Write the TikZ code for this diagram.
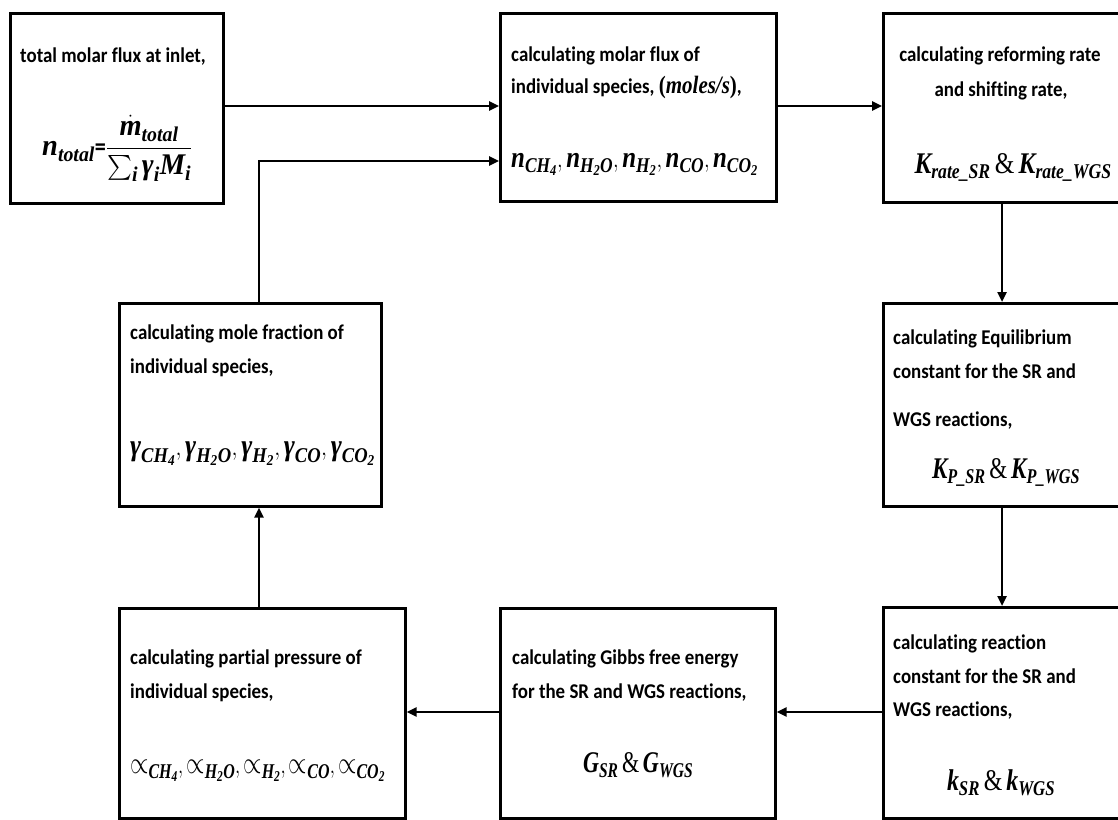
\documentclass[tikz,border=0pt]{standalone}
\usepackage{amsmath}
\usepackage{fontspec}
\setmainfont{Carlito}[FakeStretch=0.9,Ligatures=NoCommon]
\newfontfamily\mfont{Liberation Serif}
\usetikzlibrary{arrows.meta}
\newcommand{\V}[1]{\text{\mfont\bfseries\itshape #1}}
\newcommand{\amp}{\text{\mfont\,\&\,}}
\newcommand{\pp}{\mathord{\text{\scalebox{1.25}{$\propto$}}}}
\newcommand{\mthw}[2]{\resizebox{#1}{\height}{$#2$}}
\begin{document}
\begin{tikzpicture}[x=1pt,y=-1pt,
  box/.style={draw,line width=2.6pt,rectangle,anchor=north west,inner sep=0pt},
  lbl/.style={anchor=base west,inner sep=0pt,font=\fontsize{21}{25}\selectfont\bfseries},
  lblc/.style={lbl,anchor=base},
  mathlbl/.style={anchor=base west,inner sep=0pt,font=\fontsize{30}{36}\selectfont},
  mathc/.style={mathlbl,anchor=base},
  arr/.style={line width=2.4pt,-{Triangle[length=10pt,width=9pt]}}
]
\path[use as bounding box,clip] (0,0) rectangle (1118,819);
\fill[white] (0,0) rectangle (1118,819);
% boxes
\node[box,minimum width=213pt,minimum height=190pt] (b1) at (9,12) {};
\node[box,minimum width=276pt,minimum height=188pt] (b2) at (499,12) {};
\node[box,minimum width=260pt,minimum height=189pt] (b3) at (882,12) {};
\node[box,minimum width=260pt,minimum height=203pt] (b4) at (882,302) {};
\node[box,minimum width=260pt,minimum height=211pt] (b5) at (882,606) {};
\node[box,minimum width=275pt,minimum height=210pt] (b6) at (499,607) {};
\node[box,minimum width=286pt,minimum height=210pt] (b7) at (118,607) {};
\node[box,minimum width=262pt,minimum height=203pt] (b8) at (118,302) {};
% texts
\node[lblc] (t1a) at (113,62) {total molar flux at inlet,};
\node[mathlbl] (m1) at (42,155) {\mthw{150pt}{\V{n}_{\V{total}}\text{\fontsize{26}{30}\selectfont\bfseries=}\dfrac{\raisebox{3pt}{$\dot{\V{m}}_{\V{total}}$}}{\raisebox{-2pt}{$\sum_{\V{i}} \V{γ}_{\V{i}} \V{M}_{\V{i}}$}}}};
\node[lbl] (t2a) at (511,61) {calculating molar flux of};
\node[lbl] (t2b) at (511,93) {individual species, \scalebox{0.84}[1]{\fontsize{25}{30}\selectfont\mfont(\itshape moles/s\upshape)},};
\node[mathlbl] (m2) at (511,167) {\mthw{247pt}{\V{n}_{\V{CH}_{\V{4}}}, \V{n}_{\V{H}_{\V{2}}\V{O}}, \V{n}_{\V{H}_{\V{2}}}, \V{n}_{\V{CO}}, \V{n}_{\V{CO}_{\V{2}}}}};
\node[lblc] (t3a) at (1000,61) {calculating reforming rate};
\node[lblc] (t3b) at (1001,96) {and shifting rate,};
\node[mathc] (m3) at (1013,173) {\mthw{197pt}{\V{K}_{\V{rate\_SR}}\amp\V{K}_{\V{rate\_WGS}}}};
\node[lbl] (t4a) at (893,344) {calculating Equilibrium};
\node[lbl] (t4b) at (893,378) {constant for the SR and};
\node[lbl] (t4c) at (893,426) {WGS reactions,};
\node[mathc] (m4) at (1006,478) {\mthw{148pt}{\V{K}_{\V{P\_SR}}\amp\V{K}_{\V{P\_WGS}}}};
\node[lbl] (t5a) at (893,649) {calculating reaction};
\node[lbl] (t5b) at (893,683) {constant for the SR and};
\node[lbl] (t5c) at (893,716) {WGS reactions,};
\node[mathc] (m5) at (1001,790) {\mthw{108pt}{\V{k}_{\V{SR}}\amp\V{k}_{\V{WGS}}}};
\node[lbl] (t6a) at (512,664) {calculating Gibbs free energy};
\node[lbl] (t6b) at (512,698) {for the SR and WGS reactions,};
\node[mathc] (m6) at (638,772) {\mthw{110pt}{\V{G}_{\V{SR}}\amp\V{G}_{\V{WGS}}}};
\node[lbl] (t7a) at (130,664) {calculating partial pressure of};
\node[lbl] (t7b) at (130,698) {individual species,};
\node[mathlbl] (m7) at (130,773) {\mthw{255pt}{\pp_{\V{CH}_{\V{4}}}, \pp_{\V{H}_{\V{2}}\V{O}}, \pp_{\V{H}_{\V{2}}}, \pp_{\V{CO}}, \pp_{\V{CO}_{\V{2}}}}};
\node[lbl] (t8a) at (130,339) {calculating mole fraction of};
\node[lbl] (t8b) at (130,373) {individual species,};
\node[mathlbl] (m8) at (130,455) {\mthw{245pt}{\V{γ}_{\V{CH}_{\V{4}}}, \V{γ}_{\V{H}_{\V{2}}\V{O}}, \V{γ}_{\V{H}_{\V{2}}}, \V{γ}_{\V{CO}}, \V{γ}_{\V{CO}_{\V{2}}}}};
% helper coordinates
\coordinate (y106) at (0,106);
\coordinate (y161) at (0,161);
\coordinate (x259) at (259,0);
\coordinate (x1002) at (1002,0);
\coordinate (y712) at (0,712);
% connectors
\draw[arr] (b1.east |- y106) -- (b2.west |- y106);
\draw[arr] (b8.north -| x259) |- (b2.west |- y161);
\draw[arr] (b2.east |- y106) -- (b3.west |- y106);
\draw[arr] (b3.south -| x1002) -- (b4.north -| x1002);
\draw[arr] (b4.south -| x1002) -- (b5.north -| x1002);
\draw[arr] (b5.west |- y712) -- (b6.east |- y712);
\draw[arr] (b6.west |- y712) -- (b7.east |- y712);
\draw[arr] (b7.north -| x259) -- (b8.south -| x259);
\end{tikzpicture}
\end{document}
